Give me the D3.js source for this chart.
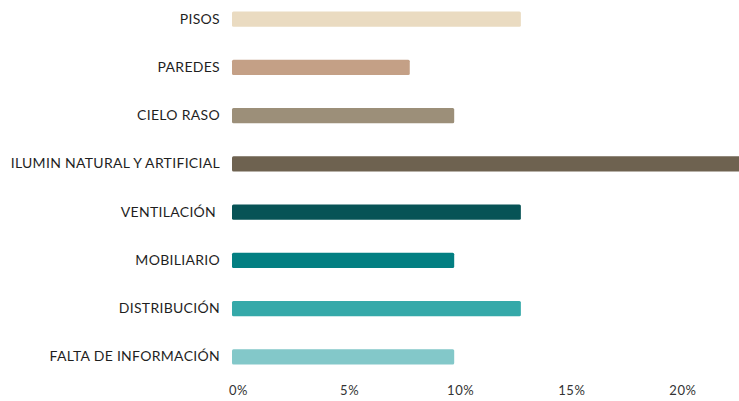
<!DOCTYPE html>
<html>
<head>
<meta charset="utf-8">
<script src="https://cdn.jsdelivr.net/npm/d3@7"></script>
<style>
  html, body { margin: 0; padding: 0; background: #ffffff; }
  svg { display: block; }
  text { font-family: Lato, "Open Sans", sans-serif; }
</style>
</head>
<body>
<svg id="chart" width="739" height="401"></svg>
<script>
// Aspectos evaluados y porcentaje de menciones
const categories = [
  "PISOS",
  "PAREDES",
  "CIELO RASO",
  "ILUMIN NATURAL Y ARTIFICIAL",
  "VENTILACIÓN ",
  "MOBILIARIO",
  "DISTRIBUCIÓN",
  "FALTA DE INFORMACIÓN"
];
const values = [13, 8, 10, 23, 13, 10, 13, 10];
const colors = ["#eadbc1", "#c4a086", "#9c8f79", "#6e6250", "#075356", "#037f82", "#35a9a9", "#83c8c9"];
const tickValues = [0, 5, 10, 15, 20];

const svg = d3.select("#chart");
const margin = { left: 232 };

const x = d3.scaleLinear()
  .domain([0, 5])
  .range([margin.left, margin.left + 111.1]);

const y = d3.scaleBand()
  .domain(categories)
  .range([-5, 381])
  .paddingInner(0.68)
  .paddingOuter(0.34);

// Barras
svg.append("g")
  .selectAll("rect")
  .data(categories)
  .join("rect")
  .attr("x", x(0))
  .attr("y", d => y(d))
  .attr("width", (d, i) => x(values[i]) - x(0))
  .attr("height", y.bandwidth())
  .attr("rx", 1.5)
  .attr("fill", (d, i) => colors[i]);

// Etiquetas de categoría
const yAxis = d3.axisLeft(y).tickSize(0).tickPadding(12);
const gy = svg.append("g")
  .attr("transform", `translate(${x(0)},0)`)
  .call(yAxis);
gy.select(".domain").remove();
gy.selectAll("text")
  .attr("font-family", "Lato, 'Open Sans', sans-serif")
  .attr("font-size", 14)
  .attr("letter-spacing", 0.3)
  .attr("fill", "#1f1f1f")
  .style("white-space", "pre");

// Eje de porcentajes
const xAxis = d3.axisBottom(x)
  .tickValues(tickValues)
  .tickSize(0)
  .tickPadding(0)
  .tickFormat(d => d + "%");
const gx = svg.append("g")
  .attr("transform", `translate(0,${386})`)
  .call(xAxis);
gx.select(".domain").remove();
gx.selectAll("text")
  .attr("dx", 6)
  .attr("font-family", "Lato, 'Open Sans', sans-serif")
  .attr("font-size", 13)
  .attr("letter-spacing", 0.6)
  .attr("fill", "#333333");
</script>
</body>
</html>
